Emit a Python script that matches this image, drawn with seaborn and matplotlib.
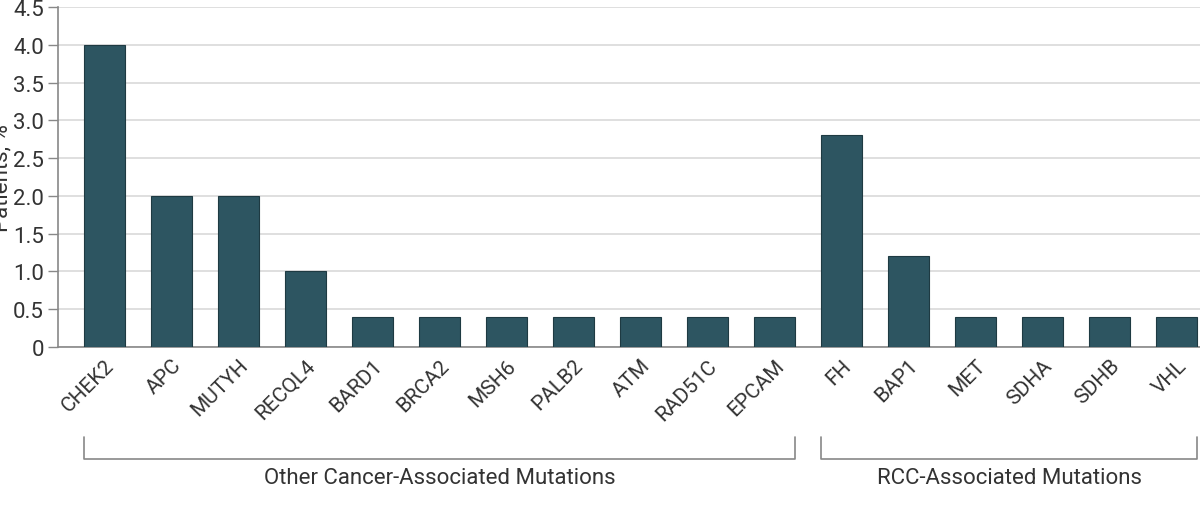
import numpy as np
import pandas as pd
import matplotlib
matplotlib.use("Agg")
import matplotlib.pyplot as plt
import matplotlib.transforms as mtransforms
import seaborn as sns

genes = ["CHEK2", "APC", "MUTYH", "RECQL4", "BARD1", "BRCA2", "MSH6", "PALB2",
         "ATM", "RAD51C", "EPCAM", "FH", "BAP1", "MET", "SDHA", "SDHB", "VHL"]
patients_pct = [4.0, 2.0, 2.0, 1.0, 0.4, 0.4, 0.4, 0.4,
                0.4, 0.4, 0.4, 2.8, 1.2, 0.4, 0.4, 0.4, 0.4]
group_names = ["Other Cancer-Associated Mutations", "RCC-Associated Mutations"]
group_sizes = [11, 6]
y_ticks = [0, 0.5, 1.0, 1.5, 2.0, 2.5, 3.0, 3.5, 4.0, 4.5]
y_tick_labels = ["0", "0.5", "1.0", "1.5", "2.0", "2.5", "3.0", "3.5", "4.0", "4.5"]

sns.set_style("white")
plt.rcParams["font.family"] = ["Roboto", "DejaVu Sans"]

text_col = "#333333"
bar_col = "#2d5561"
bar_w = 0.61

df = pd.DataFrame({"gene": genes, "pct": patients_pct})

fig = plt.figure(figsize=(12, 5.1), dpi=100)
ax = fig.add_axes([58 / 1200, 1 - 348 / 510, 1 - 58 / 1200, 340 / 510])

sns.barplot(data=df, x="gene", y="pct", color=bar_col, width=bar_w,
            edgecolor="#1e3a42", linewidth=0.8, saturation=1, ax=ax, zorder=3)

ax.set_ylim(0, 4.5)
ax.set_xlim(-0.694, 16.35)
ax.set_yticks(y_ticks)
ax.set_yticklabels(y_tick_labels, fontsize=16, color=text_col)
ax.yaxis.grid(True, color="#d9d9d9", linewidth=1.2, zorder=0)
ax.set_axisbelow(True)

ax.tick_params(axis="y", length=7, width=1, color="#888888", pad=3, left=True)
ax.tick_params(axis="x", length=0, pad=6)
ax.set_xticks(range(len(genes)))
ax.set_xticklabels(genes, rotation=45, ha="right", rotation_mode="anchor",
                   fontsize=15, color=text_col)

for side in ["top", "right"]:
    ax.spines[side].set_visible(False)
for side in ["left", "bottom"]:
    ax.spines[side].set_color("#888888")
    ax.spines[side].set_linewidth(1.2)

ax.set_xlabel("")
ax.set_ylabel("")
fig.text(0.002, 1 - 178 / 510, "Patients, %", rotation=90, ha="center", va="center",
         fontsize=16, color=text_col)

# group brackets under the tick labels
trans = mtransforms.blended_transform_factory(ax.transData, fig.transFigure)
y_top = 1 - 438 / 510
y_bot = 1 - 460 / 510
y_txt = 1 - 479 / 510
start = 0
for name, n in zip(group_names, group_sizes):
    x0 = start - bar_w / 2
    x1 = start + n - 1 + bar_w / 2
    ax.plot([x0, x0, x1, x1], [y_top, y_bot, y_bot, y_top], transform=trans,
            color="#888888", linewidth=1.2, clip_on=False)
    ax.text((x0 + x1) / 2, y_txt, name, transform=trans, ha="center", va="center",
            fontsize=16, color=text_col)
    start += n

fig.savefig("out.png", dpi=100)
